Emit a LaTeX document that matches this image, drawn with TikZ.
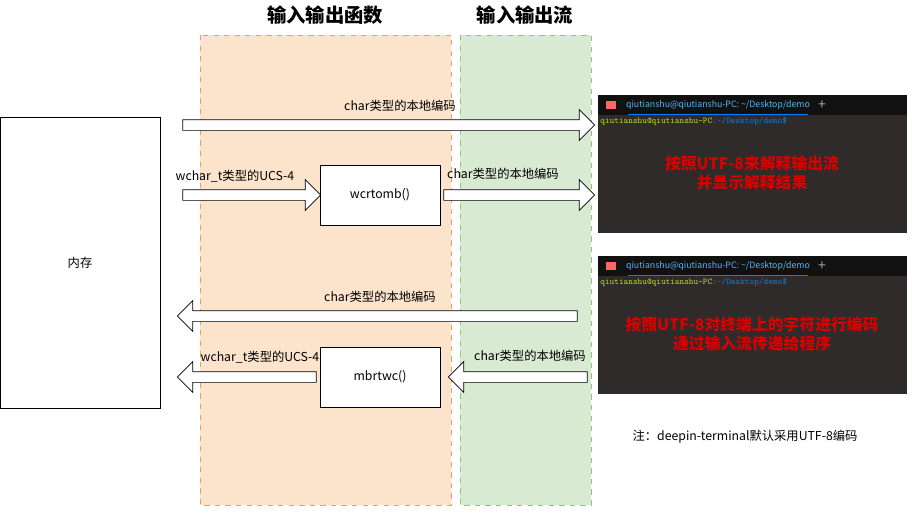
\documentclass[tikz,border=0pt]{standalone}
\usepackage{fontspec}
\setmainfont{Noto Sans CJK SC}
\usetikzlibrary{shapes.arrows}
\definecolor{fnfill}{HTML}{FCE3CC}
\definecolor{fnline}{HTML}{E8A25A}
\definecolor{stfill}{HTML}{D8EBD2}
\definecolor{stline}{HTML}{93C47D}
\definecolor{termbg}{HTML}{2E2B2A}
\definecolor{termbar}{HTML}{111111}
\tikzset{
  fatarrow/.style={single arrow, draw, fill=white, minimum width=30*0.02cm,
    single arrow head extend=10*0.02cm, single arrow head indent=0pt,
    single arrow tip angle=90, inner xsep=0pt, inner ysep=5*0.02cm,
    text height=0pt, text depth=0pt, outer sep=0pt, anchor=center},
  lbl/.style={font=\fontsize{7}{9}\selectfont},
  funcbox/.style={draw, fill=white, minimum width=120*0.02cm, minimum height=60*0.02cm, font=\fontsize{7}{9}\selectfont},
  termtxt/.style={text=red!85!black, font=\bfseries\fontsize{9}{11}\selectfont, align=center},
}
\begin{document}
\begin{tikzpicture}[x=0.02cm, y=-0.02cm]
        \useasboundingbox (0,0) rectangle (912,517);
        % column backgrounds
        \draw[fnline, dashed, fill=fnfill] (200,35) rectangle (451,505);
        \draw[stline, dashed, fill=stfill] (460,35) rectangle (591,505);
        \node[font=\bfseries\fontsize{11}{13}\selectfont] (fntitle) at (325,15) {输入输出函数};
        \node[font=\bfseries\fontsize{11}{13}\selectfont] (sttitle) at (525,15) {输入输出流};

        % memory
        \node[draw, minimum width=160*0.02cm, minimum height=291*0.02cm, lbl] (mem) at (80,262.5) {内存};

        % functions
        \node[funcbox] (wcr) at (380,195) {wcrtomb()};
        \node[funcbox] (mbr) at (380,377) {mbrtwc()};

        % output arrows
        \node[fatarrow, minimum height=412*0.02cm] (outa) at (386,125) {};
        \node[lbl] at (400,106) {char类型的本地编码};
        \node[fatarrow, minimum height=138*0.02cm] (outb) at (249,195) {};
        \node[lbl] at (235,176) {wchar\_t类型的UCS-4};
        \node[fatarrow, minimum height=151*0.02cm] (outc) at (516.5,195) {};
        \node[lbl] at (503,174) {char类型的本地编码};

        % input arrows
        \node[fatarrow, shape border rotate=180, minimum height=400*0.02cm] (ina) at (380,316) {};
        \node[lbl] at (380,297) {char类型的本地编码};
        \node[fatarrow, shape border rotate=180, minimum height=139*0.02cm] (inb) at (520.5,377) {};
        \node[lbl] at (530,356) {char类型的本地编码};
        \node[fatarrow, shape border rotate=180, minimum height=139*0.02cm] (inc) at (249.5,377) {};
        \node[lbl] at (260,357) {wchar\_t类型的UCS-4};

        % terminals
        \foreach \y/\msg in {95/{按照UTF-8来解释输出流\\并显示解释结果},
                             256/{按照UTF-8对终端上的字符进行编码\\通过输入流传递给程序}} {
          \fill[termbg] (598,\y) rectangle (907,\y+138);
          \fill[termbar] (598,\y) rectangle (907,\y+20);
          \fill[red!60] (606,\y+6) rectangle (616,\y+14);
          \draw[blue!50!cyan] (628,\y+19) -- (808,\y+19);
          \node[text=blue!40!cyan!70!white, font=\fontsize{5}{6}\selectfont] at (718,\y+10) {qiutianshu@qiutianshu-PC: \textasciitilde/Desktop/demo};
          \node[text=gray!70, font=\fontsize{8}{8}\selectfont] at (822,\y+10) {+};
          \node[anchor=west, inner sep=0pt, font=\ttfamily\fontsize{5}{6}\selectfont] at (600,\y+26)
            {\textcolor{yellow!70!green}{qiutianshu@qiutianshu-PC}\textcolor{cyan!60!blue}{:\textasciitilde/Desktop/demo\$}};
          \node[termtxt] at (752,\y+78) {\msg};
        }

        % note
        \node[lbl] (note) at (745,437) {注：deepin-terminal默认采用UTF-8编码};
\end{tikzpicture}
\end{document}
